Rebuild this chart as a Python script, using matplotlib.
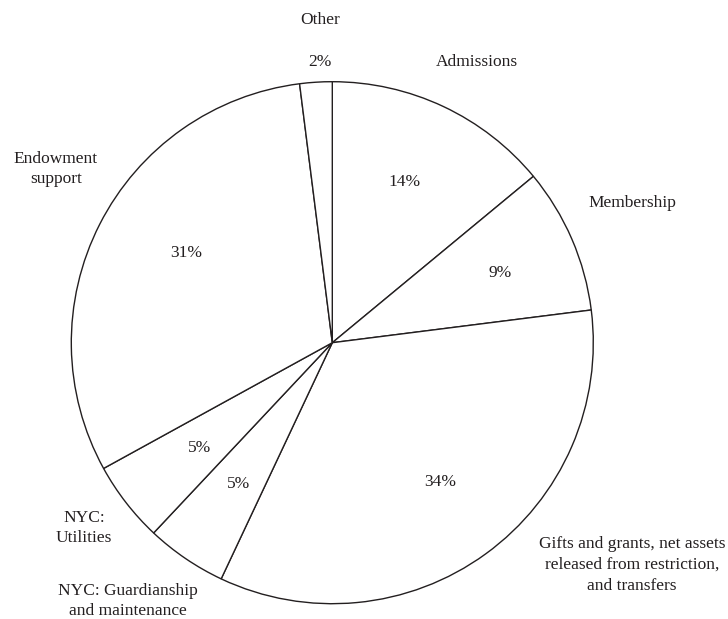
import matplotlib
matplotlib.use("Agg")
import matplotlib.pyplot as plt

# revenue sources, clockwise from the top
categories = ["Admissions", "Membership",
              "Gifts and grants, net assets\nreleased from restriction,\nand transfers",
              "NYC: Guardianship\nand maintenance", "NYC:\nUtilities",
              "Endowment\nsupport", "Other"]
shares = [14, 9, 34, 5, 5, 31, 2]
pct_labels = ["%d%%" % s for s in shares]

# where the texts sit, in picture pixels (x right, y down)
name_pos = [(477, 62), (632, 203), (632, 565), (128, 601), (84, 528), (56, 169), (320, 20)]
pct_pos = [(405, 182), (500, 273), (440, 482), (239, 484), (200, 448), (186, 253), (320, 62)]

W, H = 728, 619
ink = "#231f20"
plt.rcParams['font.family'] = ['Liberation Serif', 'DejaVu Serif']

fig = plt.figure(figsize=(W / 100, H / 100), dpi=100)
ax = fig.add_axes([0, 0, 1, 1])

ax.pie(shares, center=(332.3, H - 342.7), radius=261, startangle=90,
       counterclock=False, colors=['white'] * len(shares),
       wedgeprops=dict(edgecolor=ink, linewidth=1.0), frame=True)
ax.set_xlim(0, W)
ax.set_ylim(0, H)
ax.set_aspect('equal')
ax.axis('off')

for name, (x, y) in zip(categories, name_pos):
    ax.text(x, H - y, name, ha='center', va='center', fontsize=12.5,
            color=ink, linespacing=1.4)
for p, (x, y) in zip(pct_labels, pct_pos):
    ax.text(x, H - y, p, ha='center', va='center', fontsize=12.5, color=ink)

fig.savefig("out.png", dpi=100, facecolor='white')
